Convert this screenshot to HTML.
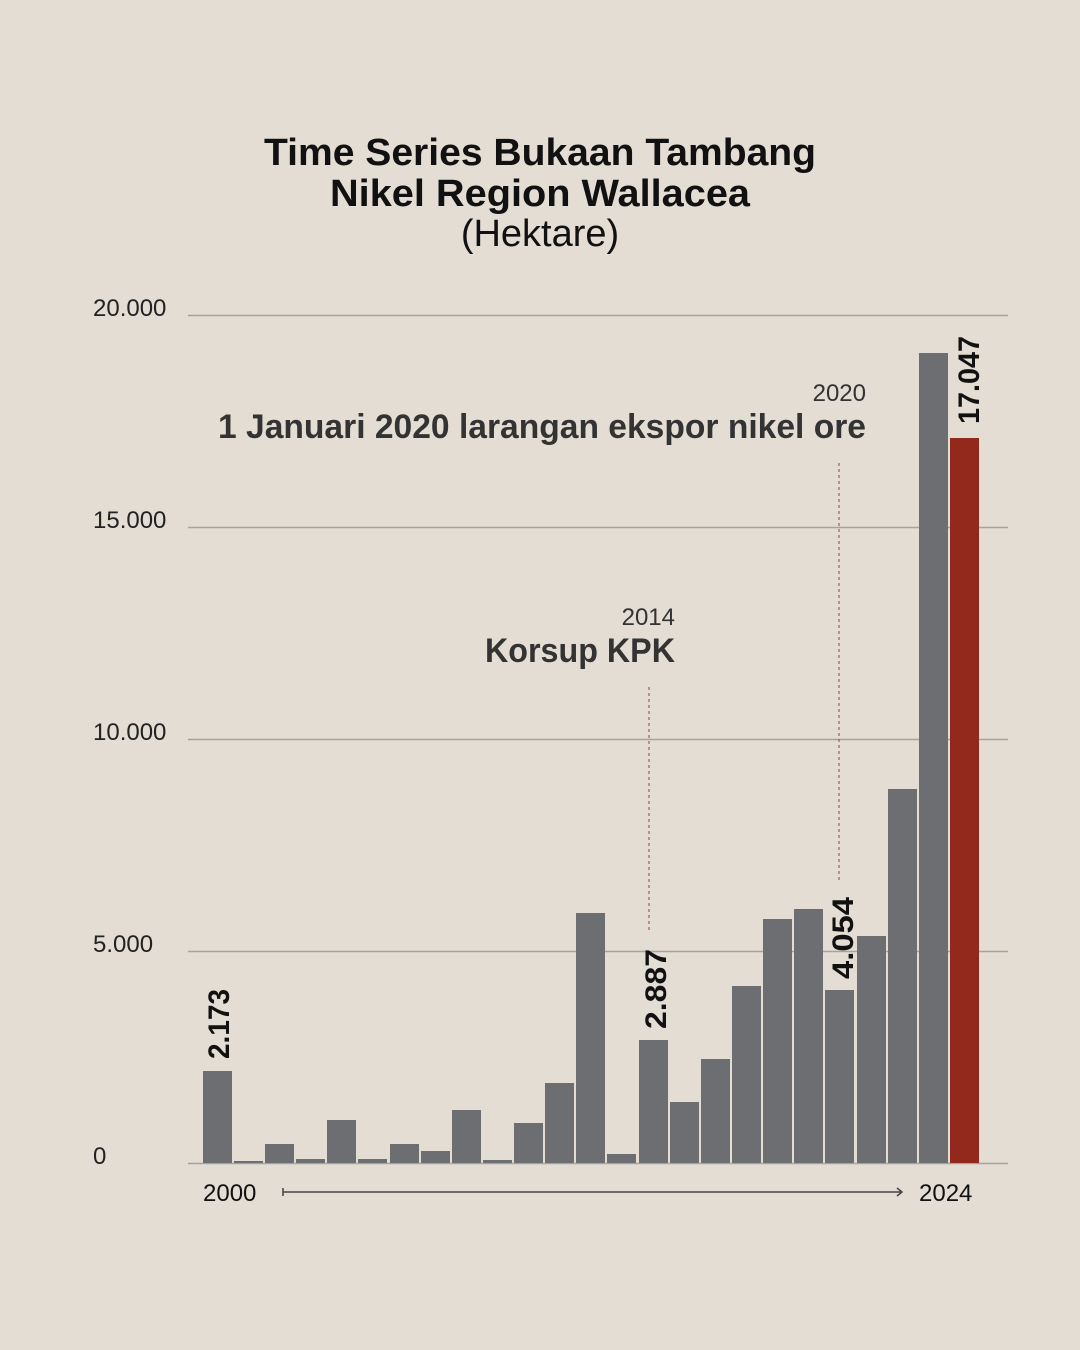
<!DOCTYPE html>
<html><head><meta charset="utf-8"><style>
html,body{margin:0;padding:0;background:#e3ddd3}
svg{display:block}
text{font-family:"Liberation Sans",sans-serif}
</style></head><body>
<svg width="1080" height="1350" viewBox="0 0 1080 1350" xmlns="http://www.w3.org/2000/svg">
<rect width="1080" height="1350" fill="#e3ddd3"/>
<g text-anchor="middle" fill="#111">
<text x="540" y="165" font-size="38" font-weight="bold" textLength="552" lengthAdjust="spacingAndGlyphs">Time Series Bukaan Tambang</text>
<text x="540" y="206" font-size="38" font-weight="bold" textLength="420" lengthAdjust="spacingAndGlyphs">Nikel Region Wallacea</text>
<text x="540" y="246" font-size="38">(Hektare)</text>
</g>
<g stroke="#a4a39e" stroke-width="1.5">
<line x1="188" y1="315.5" x2="1008" y2="315.5"/>
<line x1="188" y1="527.5" x2="1008" y2="527.5"/>
<line x1="188" y1="739.5" x2="1008" y2="739.5"/>
<line x1="188" y1="951.5" x2="1008" y2="951.5"/>
<line x1="188" y1="1163.5" x2="1008" y2="1163.5"/>
</g>
<g font-size="24" fill="#222">
<text x="93" y="316">20.000</text>
<text x="93" y="528">15.000</text>
<text x="93" y="740">10.000</text>
<text x="93" y="952">5.000</text>
<text x="93" y="1164">0</text>
</g>
<g fill="#6d6e71">
<rect x="203" y="1071" width="29" height="92"/>
<rect x="234" y="1161" width="29" height="2"/>
<rect x="265" y="1144" width="29" height="19"/>
<rect x="296" y="1159" width="29" height="4"/>
<rect x="327" y="1120" width="29" height="43"/>
<rect x="358" y="1159" width="29" height="4"/>
<rect x="390" y="1144" width="29" height="19"/>
<rect x="421" y="1151" width="29" height="12"/>
<rect x="452" y="1110" width="29" height="53"/>
<rect x="483" y="1160" width="29" height="3"/>
<rect x="514" y="1123" width="29" height="40"/>
<rect x="545" y="1083" width="29" height="80"/>
<rect x="576" y="913" width="29" height="250"/>
<rect x="607" y="1154" width="29" height="9"/>
<rect x="639" y="1040" width="29" height="123"/>
<rect x="670" y="1102" width="29" height="61"/>
<rect x="701" y="1059" width="29" height="104"/>
<rect x="732" y="986" width="29" height="177"/>
<rect x="763" y="919" width="29" height="244"/>
<rect x="794" y="909" width="29" height="254"/>
<rect x="825" y="990" width="29" height="173"/>
<rect x="857" y="936" width="29" height="227"/>
<rect x="888" y="789" width="29" height="374"/>
<rect x="919" y="353" width="29" height="810"/>
</g>
<rect x="950" y="438" width="29" height="725" fill="#93291c"/>
<g font-size="30" font-weight="bold" fill="#111">
<text transform="translate(229,1059) rotate(-90)" textLength="70" lengthAdjust="spacingAndGlyphs">2.173</text>
<text transform="translate(666,1029) rotate(-90)" textLength="80" lengthAdjust="spacingAndGlyphs">2.887</text>
<text transform="translate(853,979) rotate(-90)" textLength="82" lengthAdjust="spacingAndGlyphs">4.054</text>
<text transform="translate(979,424) rotate(-90)" textLength="88" lengthAdjust="spacingAndGlyphs">17.047</text>
</g>
<g stroke="#a8392a" stroke-width="1" stroke-dasharray="3,3">
<line x1="649" y1="687" x2="649" y2="933"/>
<line x1="839" y1="463" x2="839" y2="880"/>
</g>
<g text-anchor="end" fill="#333">
<text x="675" y="625" font-size="24">2014</text>
<text x="675" y="662" font-size="34" font-weight="bold" textLength="190" lengthAdjust="spacingAndGlyphs">Korsup KPK</text>
<text x="866" y="401" font-size="24">2020</text>
<text x="866" y="438" font-size="34" font-weight="bold" textLength="648" lengthAdjust="spacingAndGlyphs">1 Januari 2020 larangan ekspor nikel ore</text>
</g>
<g font-size="24" fill="#111">
<text x="203" y="1201">2000</text>
<text x="919" y="1201">2024</text>
</g>
<g stroke="#444" stroke-width="1.5" fill="none">
<line x1="283" y1="1192" x2="902" y2="1192"/>
<line x1="283" y1="1188" x2="283" y2="1196"/>
<polyline points="897,1188 902,1192 897,1196"/>
</g>
</svg>
</body></html>
